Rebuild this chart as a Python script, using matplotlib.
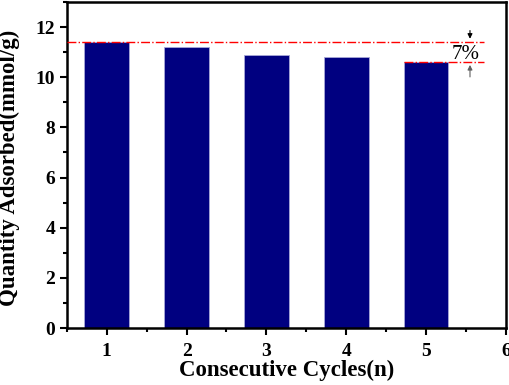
import numpy as np
import matplotlib.pyplot as plt
from matplotlib.ticker import MultipleLocator

plt.rcParams['font.family'] = ['Liberation Serif', 'DejaVu Serif']
plt.rcParams['font.weight'] = 'bold'

cycles = [1, 2, 3, 4, 5]
quantity = [11.42, 11.2, 10.9, 10.8, 10.6]

fig = plt.figure(figsize=(5.1, 3.85), dpi=100)
ax = fig.add_axes([0.131, 0.148, 0.861, 0.847])

ax.bar(cycles, quantity, width=0.56, color='#000080', edgecolor='#a8a8d8', linewidth=0.6, zorder=2)

# reference lines for the loss
ax.plot([0.5, 5.72], [quantity[0], quantity[0]], color='red', linestyle='-.', linewidth=1.0, zorder=3)
ax.plot([cycles[-1] - 0.28, 5.72], [quantity[-1], quantity[-1]], color='red', linestyle='-.', linewidth=1.0, zorder=3)

ax.annotate('', xy=(5.55, quantity[0]), xytext=(5.55, quantity[0] + 0.55),
            arrowprops=dict(arrowstyle='-|>', color='black', lw=0.8, mutation_scale=7))
ax.annotate('', xy=(5.55, quantity[-1]), xytext=(5.55, quantity[-1] - 0.7),
            arrowprops=dict(arrowstyle='-|>', color='#606060', lw=0.8, mutation_scale=7))
ax.text(5.5, 10.9, '7%', fontsize=15, fontweight='normal', ha='center', va='center')

ax.set_xlim(0.5, 6)
ax.set_ylim(0, 13)
ax.xaxis.set_major_locator(MultipleLocator(1))
ax.xaxis.set_minor_locator(MultipleLocator(0.5))
ax.yaxis.set_major_locator(MultipleLocator(2))
ax.yaxis.set_minor_locator(MultipleLocator(1))
ax.tick_params(which='both', direction='out', width=1.5, labelsize=14)
ax.tick_params(which='major', length=5)
ax.tick_params(which='minor', length=3)
ax.tick_params(axis='x', which='major', pad=6)
for s in ax.spines.values():
    s.set_linewidth(1.8)

ax.set_xlabel('Consecutive Cycles(n)', fontsize=16.5, fontweight='bold', labelpad=0)
ax.set_ylabel('Quantity Adsorbed(mmol/g)', fontsize=16.5, fontweight='bold')
ax.yaxis.set_label_coords(-0.107, 0.49)

fig.savefig('out.png', dpi=100)
